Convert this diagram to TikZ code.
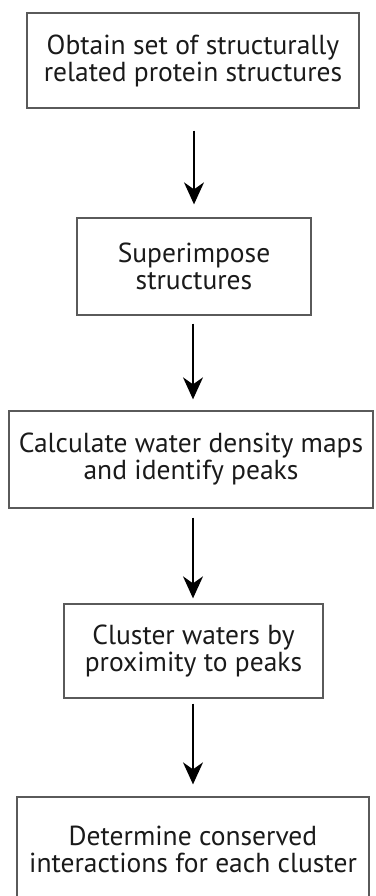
\documentclass[tikz,border=0pt]{standalone}
\usepackage{fontspec}
\setmainfont{PT Sans}
\usetikzlibrary{arrows.meta, positioning}
\definecolor{fBorder}{HTML}{5A5A5A}
\definecolor{fText}{HTML}{1A1A1A}
\tikzset{
  fbox/.style={draw=fBorder, line width=1.3pt, rectangle, inner sep=0pt,
               align=center, text=fText, font=\fontsize{27.5}{27}\selectfont},
  farrow/.style={line width=1.5pt, -{Stealth[length=22pt, width=20pt, inset=7pt]}},
}

\begin{document}
\begin{tikzpicture}[x=1pt, y=-1pt]
    \useasboundingbox (0,0) rectangle (375,896);
    \clip (0,0) rectangle (375,896);
    \node[fbox, minimum width=332pt, minimum height=95pt] (obtain) at (193,60.5)
      {Obtain set of structurally\\related protein structures};
    \node[fbox, minimum width=234pt, minimum height=97pt] (superpose) at (194,266.5)
      {Superimpose\\structures};
    \node[fbox, minimum width=364pt, minimum height=97pt] (density) at (191,459.5)
      {Calculate water density maps\\and identify peaks};
    \node[fbox, minimum width=259pt, minimum height=94pt] (cluster) at (193.5,651)
      {Cluster waters by\\proximity to peaks};
    \node[fbox, minimum width=352pt, minimum height=104pt, text depth=0pt] (determine) at (193,849)
      {Determine conserved\\interactions for each cluster};
    % arrows between the steps
    \draw[farrow, shorten <=22pt, shorten >=13pt] (obtain.south -| 194,0) -- (superpose.north -| 194,0);
    \draw[farrow, shorten <=8pt, shorten >=11pt] (superpose.south -| 193,0) -- (density.north -| 193,0);
    \draw[farrow, shorten <=9pt, shorten >=5pt] (density.south -| 193,0) -- (cluster.north -| 193,0);
    \draw[farrow, shorten <=5pt, shorten >=12pt] (cluster.south -| 193,0) -- (determine.north -| 193,0);
\end{tikzpicture}
\end{document}
